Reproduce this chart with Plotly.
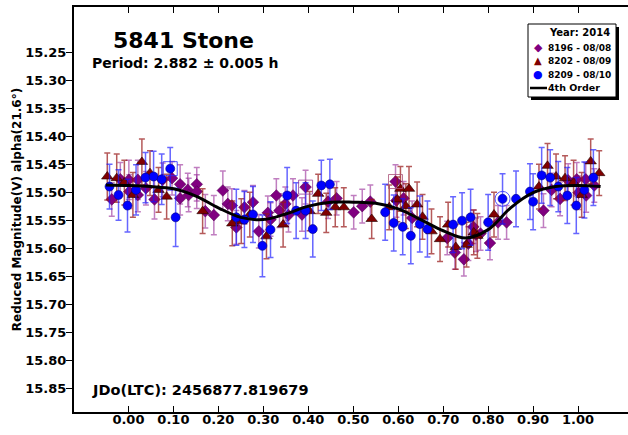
import plotly.graph_objects as go

# ---------------- data ----------------
p8196_phase = [-0.037, -0.018, 0.001, 0.002, 0.021, 0.021, 0.039, 0.058, 0.076, 0.097, 0.115, 0.115,
               0.132, 0.134, 0.152, 0.152, 0.171, 0.190, 0.210, 0.221, 0.230, 0.240, 0.258, 0.277,
               0.290, 0.310, 0.316, 0.329, 0.336, 0.349, 0.356, 0.366, 0.386, 0.394, 0.444, 0.463,
               0.501, 0.520, 0.538, 0.594, 0.596, 0.612, 0.631, 0.709, 0.726, 0.746, 0.756, 0.767,
               0.773, 0.783, 0.804, 0.822, 0.841, 0.923, 0.941, 0.960, 0.978, 0.997, 1.001, 1.017,
               1.018, 1.036]
p8196_mag = [15.512, 15.476, 15.477, 15.498, 15.477, 15.504, 15.492, 15.512, 15.477, 15.474, 15.485, 15.510,
             15.495, 15.504, 15.485, 15.498, 15.533, 15.540, 15.496, 15.520, 15.523, 15.562, 15.526, 15.517,
             15.569, 15.536, 15.548, 15.505, 15.532, 15.520, 15.540, 15.505, 15.539, 15.490, 15.516, 15.510,
             15.535, 15.524, 15.516, 15.480, 15.514, 15.510, 15.545, 15.581, 15.607, 15.619, 15.591, 15.561,
             15.575, 15.573, 15.590, 15.553, 15.553, 15.532, 15.495, 15.511, 15.478, 15.476, 15.500, 15.476,
             15.505, 15.487]
p8196_err = [0.030, 0.030, 0.035, 0.030, 0.035, 0.030, 0.030, 0.035, 0.030, 0.030, 0.035, 0.030,
             0.030, 0.030, 0.030, 0.030, 0.030, 0.035, 0.035, 0.030, 0.030, 0.030, 0.030, 0.030,
             0.030, 0.030, 0.030, 0.030, 0.030, 0.030, 0.030, 0.030, 0.030, 0.030, 0.030, 0.030,
             0.030, 0.030, 0.030, 0.030, 0.030, 0.030, 0.030, 0.030, 0.030, 0.030, 0.030, 0.030,
             0.030, 0.030, 0.030, 0.030, 0.030, 0.030, 0.030, 0.030, 0.030, 0.030, 0.030, 0.030,
             0.030, 0.030]

p8202_phase = [-0.047, -0.026, -0.009, 0.010, 0.030, 0.048, 0.067, 0.085, 0.165, 0.231, 0.251, 0.270,
               0.307, 0.344, 0.403, 0.422, 0.440, 0.460, 0.479, 0.541, 0.580, 0.598, 0.605, 0.617,
               0.624, 0.642, 0.654, 0.674, 0.693, 0.711, 0.728, 0.752, 0.768, 0.776, 0.813, 0.913,
               0.932, 0.951, 0.971, 0.990, 1.008, 1.028, 1.047]
p8202_mag = [15.471, 15.474, 15.482, 15.504, 15.445, 15.465, 15.495, 15.507, 15.533, 15.555, 15.551, 15.539,
             15.578, 15.557, 15.533, 15.502, 15.536, 15.526, 15.526, 15.547, 15.526, 15.512, 15.493, 15.524,
             15.493, 15.521, 15.543, 15.569, 15.583, 15.557, 15.597, 15.593, 15.571, 15.577, 15.539, 15.489,
             15.452, 15.471, 15.474, 15.482, 15.504, 15.444, 15.465]
p8202_err = [0.042, 0.043, 0.040, 0.040, 0.041, 0.040, 0.040, 0.040, 0.040, 0.040, 0.040, 0.040,
             0.040, 0.040, 0.035, 0.035, 0.035, 0.035, 0.035, 0.035, 0.040, 0.040, 0.040, 0.040,
             0.040, 0.040, 0.040, 0.040, 0.040, 0.040, 0.040, 0.040, 0.040, 0.040, 0.040, 0.040,
             0.040, 0.040, 0.040, 0.040, 0.040, 0.040, 0.040]

p8209_phase = [-0.042, -0.022, -0.002, 0.017, 0.038, 0.056, 0.074, 0.093, 0.105, 0.240, 0.258, 0.277,
               0.298, 0.316, 0.353, 0.373, 0.394, 0.410, 0.429, 0.448, 0.571, 0.590, 0.610, 0.628,
               0.648, 0.665, 0.722, 0.742, 0.761, 0.800, 0.832, 0.862, 0.893, 0.900, 0.919, 0.938,
               0.956, 0.976, 0.996, 1.014, 1.034]
p8209_mag = [15.489, 15.504, 15.523, 15.495, 15.473, 15.471, 15.476, 15.457, 15.544, 15.544, 15.548, 15.539,
             15.595, 15.566, 15.505, 15.532, 15.532, 15.565, 15.487, 15.485, 15.535, 15.554, 15.561, 15.577,
             15.556, 15.565, 15.557, 15.550, 15.544, 15.553, 15.511, 15.511, 15.498, 15.516, 15.469, 15.473,
             15.489, 15.505, 15.523, 15.495, 15.473]
p8209_err = [0.040, 0.045, 0.047, 0.045, 0.045, 0.045, 0.045, 0.038, 0.052, 0.050, 0.050, 0.050,
             0.055, 0.050, 0.050, 0.050, 0.050, 0.050, 0.045, 0.045, 0.050, 0.050, 0.050, 0.050,
             0.050, 0.050, 0.050, 0.050, 0.050, 0.050, 0.045, 0.050, 0.050, 0.050, 0.050, 0.050,
             0.045, 0.050, 0.050, 0.050, 0.050]

fit_phase = [-0.05, 0.00, 0.05, 0.10, 0.15, 0.20, 0.25, 0.30, 0.35, 0.40, 0.45, 0.50,
             0.55, 0.60, 0.65, 0.70, 0.75, 0.80, 0.85, 0.90, 0.95, 1.00, 1.05]
fit_mag = [15.486, 15.487, 15.489, 15.493, 15.506, 15.527, 15.544, 15.548, 15.538, 15.524, 15.517, 15.517,
           15.519, 15.529, 15.548, 15.568, 15.581, 15.566, 15.527, 15.500, 15.489, 15.487, 15.489]

# highlighted (flagged) observations
flag_sq_phase = [0.093, 0.394, 0.594]
flag_sq_mag = [15.457, 15.490, 15.480]
flag_sq_color = ["rgba(40,40,255,0.8)", "rgba(150,60,150,0.8)", "rgba(170,80,120,0.8)"]
flag_ring_phase = [0.832]
flag_ring_mag = [15.511]

x_ticks = [0.0, 0.1, 0.2, 0.3, 0.4, 0.5, 0.6, 0.7, 0.8, 0.9, 1.0]
x_ticklabels = ["0.00", "0.10", "0.20", "0.30", "0.40", "0.50", "0.60", "0.70", "0.80", "0.90", "1.00"]
y_ticks = [15.25, 15.30, 15.35, 15.40, 15.45, 15.50, 15.55, 15.60, 15.65, 15.70, 15.75, 15.80, 15.85]
y_ticklabels = ["%.2f" % v for v in y_ticks]

legend_title = "Year: 2014"
series_names = ["8196 - 08/08", "8202 - 08/09", "8209 - 08/10"]
series_colors = ["#800080", "#800000", "#0000ff"]
series_glyphs = ["◆", "▲", "●"]
fit_name = "4th Order"

FONT = "DejaVu Sans"

fig = go.Figure()

fig.add_trace(go.Scatter(
    x=p8196_phase, y=p8196_mag, mode="markers", name=series_names[0],
    marker=dict(symbol="diamond", size=9, color=series_colors[0], line=dict(width=0.5, color="#4a004a")),
    error_y=dict(type="data", array=p8196_err, color="rgba(150,40,150,0.6)", thickness=1.5, width=3),
))
fig.add_trace(go.Scatter(
    x=p8202_phase, y=p8202_mag, mode="markers", name=series_names[1],
    marker=dict(symbol="triangle-up", size=10, color=series_colors[1], line=dict(width=0.6, color="#200000")),
    error_y=dict(type="data", array=p8202_err, color="rgba(150,20,20,0.7)", thickness=1.5, width=3),
))
fig.add_trace(go.Scatter(
    x=p8209_phase, y=p8209_mag, mode="markers", name=series_names[2],
    marker=dict(symbol="circle", size=9, color=series_colors[2], line=dict(width=0.6, color="#000080")),
    error_y=dict(type="data", array=p8209_err, color="rgba(20,20,255,0.65)", thickness=1.5, width=3),
))
fig.add_trace(go.Scatter(
    x=flag_sq_phase, y=flag_sq_mag, mode="markers", showlegend=False, hoverinfo="skip",
    marker=dict(symbol="square-open", size=14, color=flag_sq_color, line=dict(width=1)),
))
fig.add_trace(go.Scatter(
    x=flag_ring_phase, y=flag_ring_mag, mode="markers", showlegend=False, hoverinfo="skip",
    marker=dict(symbol="circle-open", size=15, color="rgba(40,40,255,0.8)", line=dict(width=1)),
))
fig.add_trace(go.Scatter(
    x=fit_phase, y=fit_mag, mode="lines", name=fit_name,
    line=dict(color="black", width=3, shape="spline", smoothing=1.0),
))

L, T, R, B = 74, 7, 628, 412
W, H = 628, 435

def px(xp):
    return (xp - L) / (R - L)

def py(yp):
    return 1 - (yp - T) / (B - T)

# ---- hand-drawn legend box (with drop shadow) ----
LB_L, LB_T, LB_R, LB_B = 528, 24, 616, 97
shapes = [
    dict(type="rect", xref="paper", yref="paper", layer="above",
         x0=px(LB_L + 3), x1=px(LB_R + 3), y0=py(LB_B + 3), y1=py(LB_T + 3),
         fillcolor="black", line=dict(width=0)),
    dict(type="rect", xref="paper", yref="paper", layer="above",
         x0=px(LB_L), x1=px(LB_R), y0=py(LB_B), y1=py(LB_T),
         fillcolor="white", line=dict(color="black", width=1)),
    dict(type="line", xref="paper", yref="paper", layer="above",
         x0=px(530), x1=px(547), y0=py(88), y1=py(88),
         line=dict(color="black", width=2.5)),
]

annotations = [
    dict(text="5841 Stone", x=px(183), y=py(40), xref="paper", yref="paper",
         xanchor="center", yanchor="middle", showarrow=False,
         font=dict(family=FONT, size=22, color="black", weight="bold")),
    dict(text="Period: 2.882 ± 0.005 h", x=px(185), y=py(63), xref="paper", yref="paper",
         xanchor="center", yanchor="middle", showarrow=False,
         font=dict(family=FONT, size=14, color="black", weight="bold")),
    dict(text="JDo(LTC): 2456877.819679", x=px(90), y=py(390), xref="paper", yref="paper",
         xanchor="left", yanchor="middle", showarrow=False,
         font=dict(family=FONT, size=14.5, color="black", weight="bold")),
    dict(text=legend_title, x=px(612), y=py(32), xref="paper", yref="paper",
         xanchor="right", yanchor="middle", showarrow=False,
         font=dict(family=FONT, size=10, color="black", weight="bold")),
]
row_y = [48, 61, 75]
glyph_sizes = [11, 10, 11]
for name, col, gl, gs, ry in zip(series_names, series_colors, series_glyphs, glyph_sizes, row_y):
    annotations.append(dict(text=gl, x=px(538), y=py(ry), xref="paper", yref="paper",
                            xanchor="center", yanchor="middle", showarrow=False,
                            font=dict(family=FONT, size=gs, color=col)))
    annotations.append(dict(text=name, x=px(546), y=py(ry), xref="paper", yref="paper",
                            xanchor="left", yanchor="middle", showarrow=False,
                            font=dict(family=FONT, size=9, color="black", weight="bold")))
annotations.append(dict(text=fit_name, x=px(546), y=py(88), xref="paper", yref="paper",
                        xanchor="left", yanchor="middle", showarrow=False,
                        font=dict(family=FONT, size=9.5, color="black", weight="bold")))

fig.update_layout(
    width=W, height=H,
    margin=dict(l=L, r=W - R, t=T, b=H - B, autoexpand=False),
    paper_bgcolor="white", plot_bgcolor="white",
    font=dict(family=FONT, color="black", weight="bold"),
    showlegend=False,
    xaxis=dict(
        range=[-0.121, 1.111], tickmode="array", tickvals=x_ticks, ticktext=x_ticklabels,
        ticks="inside", ticklen=6, tickwidth=1, tickcolor="black",
        showline=True, linewidth=2, linecolor="black", mirror="ticks",
        showgrid=False, zeroline=False, automargin=False,
        tickfont=dict(family=FONT, size=13, color="black", weight="bold"),
        ticklabelstandoff=-6,
    ),
    yaxis=dict(
        range=[15.892, 15.168], tickmode="array", tickvals=y_ticks, ticktext=y_ticklabels,
        ticks="outside", ticklen=6, tickwidth=1, tickcolor="black",
        showline=True, linewidth=2, linecolor="black", mirror=False,
        showgrid=False, zeroline=False, automargin=False,
        tickfont=dict(family=FONT, size=13, color="black", weight="bold"),
        ticklabelstandoff=-3,
        title=dict(text="Reduced Magnitude(V) alpha(21.6°)", standoff=1,
                   font=dict(family=FONT, size=12, color="black", weight="bold")),
    ),
    shapes=shapes,
    annotations=annotations,
)

fig.write_html(
    "out.html",
    config={"displayModeBar": False},
    post_script="document.body.style.margin='0';document.body.style.overflow='hidden';",
)
